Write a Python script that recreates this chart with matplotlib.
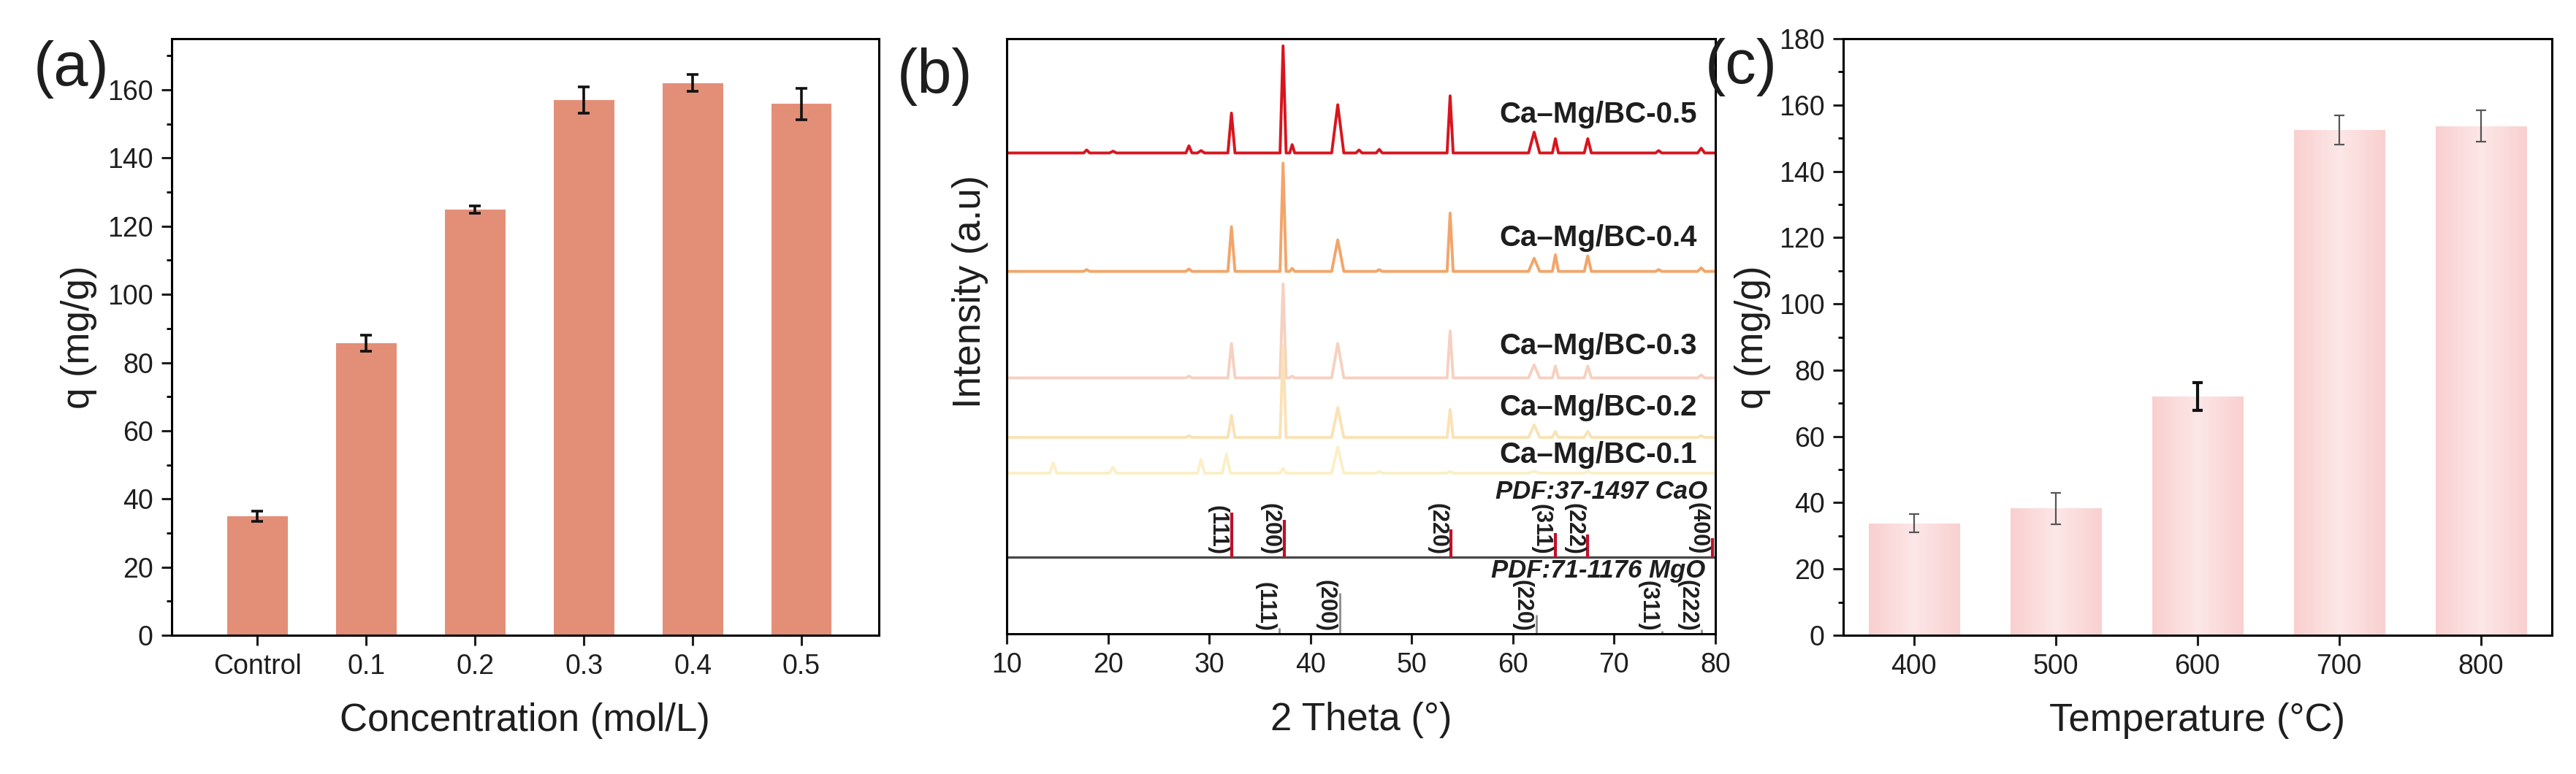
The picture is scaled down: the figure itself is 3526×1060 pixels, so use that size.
import numpy as np
import matplotlib
matplotlib.use('Agg')
import matplotlib.pyplot as plt
from matplotlib.colors import LinearSegmentedColormap

plt.rcParams['font.family'] = ['Liberation Sans', 'DejaVu Sans']
plt.rcParams['axes.linewidth'] = 2.2
plt.rcParams['xtick.major.width'] = 2.2
plt.rcParams['ytick.major.width'] = 2.2
plt.rcParams['ytick.minor.width'] = 2.0

# (a) 浓度影响
conc_labels = ['Control', '0.1', '0.2', '0.3', '0.4', '0.5']
conc_q = [35.0, 85.7, 124.9, 157.0, 162.0, 155.9]
conc_err = [1.5, 2.3, 1.0, 3.8, 2.5, 4.6]

# (c) 温度影响
temp_labels = ['400', '500', '600', '700', '800']
temp_q = [33.8, 38.3, 72.1, 152.4, 153.6]
temp_err = [2.7, 4.7, 4.2, 4.4, 4.7]

# (b) XRD
xrd_names = ['Ca–Mg/BC-0.5', 'Ca–Mg/BC-0.4', 'Ca–Mg/BC-0.3', 'Ca–Mg/BC-0.2', 'Ca–Mg/BC-0.1']
xrd_offsets = [80.8, 60.9, 43.0, 33.0, 27.0]
peak_pos = [14.6, 17.9, 20.5, 28.0, 29.2, 31.7, 32.2, 37.3, 38.2, 42.7, 44.8, 46.8,
            53.8, 62.1, 64.2, 67.4, 74.4, 78.6]
h_05 = [0, 0.5, 0.3, 1.2, 0.4, 0, 6.7, 18.0, 1.4, 8.1, 0.5, 0.6, 9.6, 3.5, 2.4, 2.4, 0.4, 0.8]
h_04 = [0, 0.3, 0, 0.4, 0, 0, 7.5, 18.2, 0.5, 5.3, 0, 0.3, 9.8, 2.2, 2.8, 2.6, 0.3, 0.6]
h_03 = [0, 0, 0, 0.3, 0, 0, 5.8, 15.8, 0.3, 5.8, 0, 0, 7.9, 2.2, 2.0, 2.0, 0, 0.5]
h_02 = [0, 0, 0, 0.3, 0, 0, 3.7, 15.4, 0, 5.0, 0, 0, 4.7, 2.1, 1.0, 1.0, 0, 0.3]
h_01 = [1.7, 0, 1.0, 0, 2.3, 3.2, 0, 0.8, 0, 4.4, 0, 0.3, 0.3, 0.3, 0, 0.3, 0, 0]
xrd_heights = [h_05, h_04, h_03, h_02, h_01]

cao_pos = [32.2, 37.4, 53.9, 64.2, 67.4, 79.7]
cao_hkl = ['(111)', '(200)', '(220)', '(311)', '(222)', '(400)']
cao_int = [7.5, 6.3, 4.6, 4.0, 3.8, 3.2]
cao_base = 12.9
mgo_pos = [36.9, 42.9, 62.3, 74.7, 78.6]
mgo_hkl = ['(111)', '(200)', '(220)', '(311)', '(222)']
mgo_int = [1.0, 6.9, 3.2, 0.5, 0.8]

# 样式
peak_hw = [0.35, 0.3, 0.35, 0.3, 0.35, 0.4, 0.35, 0.3, 0.25, 0.6, 0.3, 0.3,
           0.3, 0.55, 0.3, 0.35, 0.3, 0.35]
xrd_colors = ['#D9141E', '#F2A56A', '#F6D0C0', '#FAE2B6', '#FBEFC6']
name_dy = [6.4, 5.6, 5.4, 5.0, 3.1]
temp_err_color = ['#555555', '#555555', '#111111', '#555555', '#555555']
temp_err_lw = [1.6, 1.6, 3.0, 1.6, 1.6]

TICK = 27
LABEL = 38
txt = '#1e1e1e'

fig = plt.figure(figsize=(35.26, 10.6), dpi=100)
ax_a = fig.add_axes([0.0666, 0.1792, 0.2745, 0.7708])
ax_b = fig.add_axes([0.3908, 0.1811, 0.2751, 0.7689])
ax_c = fig.add_axes([0.7155, 0.1792, 0.2751, 0.7708])

for ax in (ax_a, ax_b, ax_c):
    ax.tick_params(labelsize=TICK, colors=txt, direction='out', length=10, pad=8)
    ax.tick_params(which='minor', direction='out', length=5)

# ---- (a)
xa = np.arange(len(conc_labels))
ax_a.bar(xa, conc_q, width=0.557, color='#E38F78')
ax_a.errorbar(xa, conc_q, yerr=conc_err, fmt='none', ecolor='#111111',
              elinewidth=2.6, capsize=6, capthick=2.6)
ax_a.set_xlim(-0.79, 5.71)
ax_a.set_ylim(0, 175)
ax_a.set_xticks(xa)
ax_a.set_xticklabels(conc_labels)
ax_a.set_yticks(np.arange(0, 161, 20))
ax_a.set_yticks(np.arange(10, 175, 20), minor=True)
ax_a.set_ylabel('q (mg/g)', fontsize=LABEL, color=txt)
ax_a.yaxis.set_label_coords(-0.105, 0.5)
ax_a.set_xlabel('Concentration (mol/L)', fontsize=LABEL, color=txt)
ax_a.xaxis.set_label_coords(0.5, -0.112)

# ---- (b)
for heights, base, col, name, dy in zip(xrd_heights, xrd_offsets, xrd_colors, xrd_names, name_dy):
    xs, ys = [10], [base]
    for p, h, w in zip(peak_pos, heights, peak_hw):
        if h > 0:
            xs += [p - w, p, p + w]
            ys += [base, base + h, base]
    xs.append(80)
    ys.append(base)
    ax_b.plot(xs, ys, color=col, lw=2.8, solid_joinstyle='round')
    ax_b.text(78.2, base + dy, name, fontsize=29, fontweight='bold', color=txt,
              ha='right', va='center')

ax_b.axhline(cao_base, color='#4a4a4a', lw=2.4)
ax_b.vlines(cao_pos, cao_base, [cao_base + v for v in cao_int], color='#C0102A', lw=3)
for p, lab in zip(cao_pos, cao_hkl):
    ax_b.text(p - 0.3, cao_base + 0.4, lab, rotation=-90, fontsize=22, fontweight='bold',
              color=txt, ha='right', va='bottom')
ax_b.vlines(mgo_pos, 0, mgo_int, color='#8c8c8c', lw=2)
for p, lab in zip(mgo_pos, mgo_hkl):
    ax_b.text(p - 0.3, 0.4, lab, rotation=-90, fontsize=22, fontweight='bold',
              color=txt, ha='right', va='bottom')
ax_b.text(79.2, 23.9, 'PDF:37-1497 CaO', fontsize=25, fontweight='bold', style='italic',
          color=txt, ha='right', va='center')
ax_b.text(79.0, 10.6, 'PDF:71-1176 MgO', fontsize=25, fontweight='bold', style='italic',
          color=txt, ha='right', va='center')

ax_b.set_xlim(10, 80)
ax_b.set_ylim(0, 100)
ax_b.set_xticks(np.arange(10, 81, 10))
ax_b.set_yticks([])
ax_b.set_ylabel('Intensity (a.u)', fontsize=LABEL, color=txt)
ax_b.yaxis.set_label_coords(-0.026, 0.575)
ax_b.set_xlabel('2 Theta (°)', fontsize=LABEL, color=txt)
ax_b.xaxis.set_label_coords(0.5, -0.114)

# ---- (c)
xc = np.arange(len(temp_labels))
bars = ax_c.bar(xc, temp_q, width=0.64, color='#FBD6D6')
pink = LinearSegmentedColormap.from_list('pk', ['#F9CFCF', '#FDE7E7', '#F9D0D0'])
grad = np.linspace(0, 1, 200).reshape(1, -1)
for b in bars:
    x0, y0 = b.get_x(), b.get_y()
    im = ax_c.imshow(grad, extent=(x0, x0 + b.get_width(), y0, y0 + b.get_height()),
                     cmap=pink, aspect='auto', zorder=b.get_zorder() + 0.1)
    im.set_clip_path(b)
for i in range(len(xc)):
    ax_c.errorbar(xc[i], temp_q[i], yerr=temp_err[i], fmt='none', ecolor=temp_err_color[i],
                  elinewidth=temp_err_lw[i], capsize=5, capthick=temp_err_lw[i], zorder=5)
ax_c.set_xlim(-0.5, 4.5)
ax_c.set_ylim(0, 180)
ax_c.set_xticks(xc)
ax_c.set_xticklabels(temp_labels)
ax_c.set_yticks(np.arange(0, 181, 20))
ax_c.set_yticks(np.arange(10, 180, 20), minor=True)
ax_c.set_ylabel('q (mg/g)', fontsize=LABEL, color=txt)
ax_c.yaxis.set_label_coords(-0.102, 0.5)
ax_c.set_xlabel('Temperature (°C)', fontsize=LABEL, color=txt)
ax_c.xaxis.set_label_coords(0.5, -0.112)

# 面板编号
fig.text(0.0278, 0.91, '(a)', fontsize=61, color=txt, ha='center', va='center')
fig.text(0.363, 0.901, '(b)', fontsize=61, color=txt, ha='center', va='center')
fig.text(0.676, 0.913, '(c)', fontsize=61, color=txt, ha='center', va='center')

fig.savefig('out.png', dpi=100)
